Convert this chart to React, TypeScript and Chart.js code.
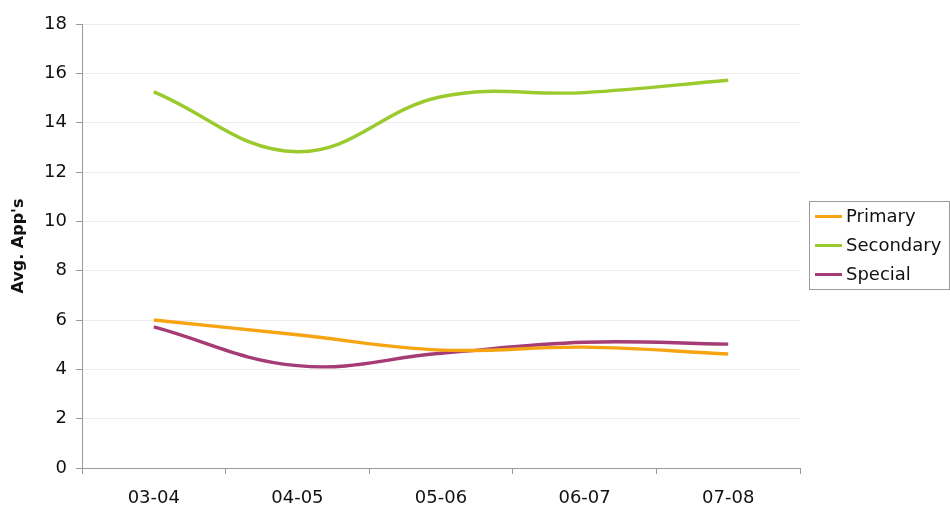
import React, { useEffect, useRef } from "react";
import { Chart, registerables } from "chart.js";

Chart.register(...registerables);

const years = ["03-04", "04-05", "05-06", "06-07", "07-08"];
const primary = [6.0, 5.4, 4.78, 4.9, 4.62];
const secondary = [15.25, 12.82, 15.05, 15.22, 15.72];
const special = [5.72, 4.15, 4.65, 5.1, 5.02];
const yTicks = [0, 2, 4, 6, 8, 10, 12, 14, 16, 18];

const FONT = "'DejaVu Sans', 'Liberation Sans', Arial, sans-serif";

// Boxed legend with short line samples, drawn to the right of the plot.
const boxLegend = {
  id: "boxLegend",
  afterDraw(chart: any) {
    const ctx = chart.ctx;
    const left = 809.5;
    const top = 201.5;
    const width = 140;
    const height = 88;
    ctx.save();
    ctx.strokeStyle = "#9a9a9a";
    ctx.lineWidth = 1;
    ctx.strokeRect(left, top, width, height);
    ctx.font = `18px ${FONT}`;
    ctx.textBaseline = "middle";
    ctx.textAlign = "left";
    chart.data.datasets.forEach((ds: any, i: number) => {
      const y = 216.5 + i * 29;
      ctx.strokeStyle = ds.borderColor;
      ctx.lineWidth = 3;
      ctx.beginPath();
      ctx.moveTo(815, y);
      ctx.lineTo(842, y);
      ctx.stroke();
      ctx.fillStyle = "#111";
      ctx.fillText(ds.label, 846, y + 1);
    });
    ctx.restore();
  },
};

const whiteBg = {
  id: "whiteBg",
  beforeDraw(chart: any) {
    const ctx = chart.ctx;
    ctx.save();
    ctx.fillStyle = "#ffffff";
    ctx.fillRect(0, 0, chart.width, chart.height);
    ctx.restore();
  },
};

export default function App() {
  const canvasRef = useRef<HTMLCanvasElement | null>(null);

  useEffect(() => {
    if (!canvasRef.current) return;
    const chart = new Chart(canvasRef.current, {
      type: "line",
      data: {
        labels: years,
        datasets: [
          { label: "Primary", data: primary, borderColor: "#F7A413" },
          { label: "Secondary", data: secondary, borderColor: "#9BCA2E" },
          { label: "Special", data: special, borderColor: "#A63C75" },
        ].map((d) => ({
          ...d,
          borderWidth: 3.4,
          tension: 0.4,
          pointRadius: 0,
          fill: false,
        })),
      },
      options: {
        responsive: false,
        animation: false,
        layout: { padding: { top: 24, right: 150, bottom: 0, left: 0 } },
        plugins: {
          legend: { display: false },
          tooltip: { enabled: false },
        },
        scales: {
          x: {
            offset: true,
            afterFit: (scale: any) => {
              scale.height = 46;
            },
            grid: {
              offset: true,
              drawOnChartArea: false,
              drawTicks: true,
              tickLength: 6,
              tickColor: "#9a9a9a",
            },
            border: { display: true, color: "#9a9a9a", width: 1 },
            ticks: {
              color: "#111",
              font: { family: FONT, size: 18 },
              padding: 14,
              maxRotation: 0,
            },
          },
          y: {
            min: 0,
            max: 18,
            afterBuildTicks: (scale: any) => {
              scale.ticks = yTicks.map((v) => ({ value: v }));
            },
            afterFit: (scale: any) => {
              scale.width = 82;
            },
            grid: {
              color: "#ececec",
              tickColor: "#9a9a9a",
              tickLength: 6,
            },
            border: { display: true, color: "#9a9a9a", width: 1 },
            ticks: {
              color: "#111",
              font: { family: FONT, size: 18 },
              padding: 9,
            },
            title: {
              display: true,
              text: "Avg. App's",
              color: "#111",
              font: { family: FONT, size: 16, weight: "bold" },
              padding: { top: 9, bottom: 4 },
            },
          },
        },
      },
      plugins: [whiteBg, boxLegend],
    });
    return () => chart.destroy();
  }, []);

  return (
    <div style={{ position: "absolute", left: 0, top: 0, width: 950, height: 514 }}>
      <canvas ref={canvasRef} width={950} height={514} />
    </div>
  );
}
